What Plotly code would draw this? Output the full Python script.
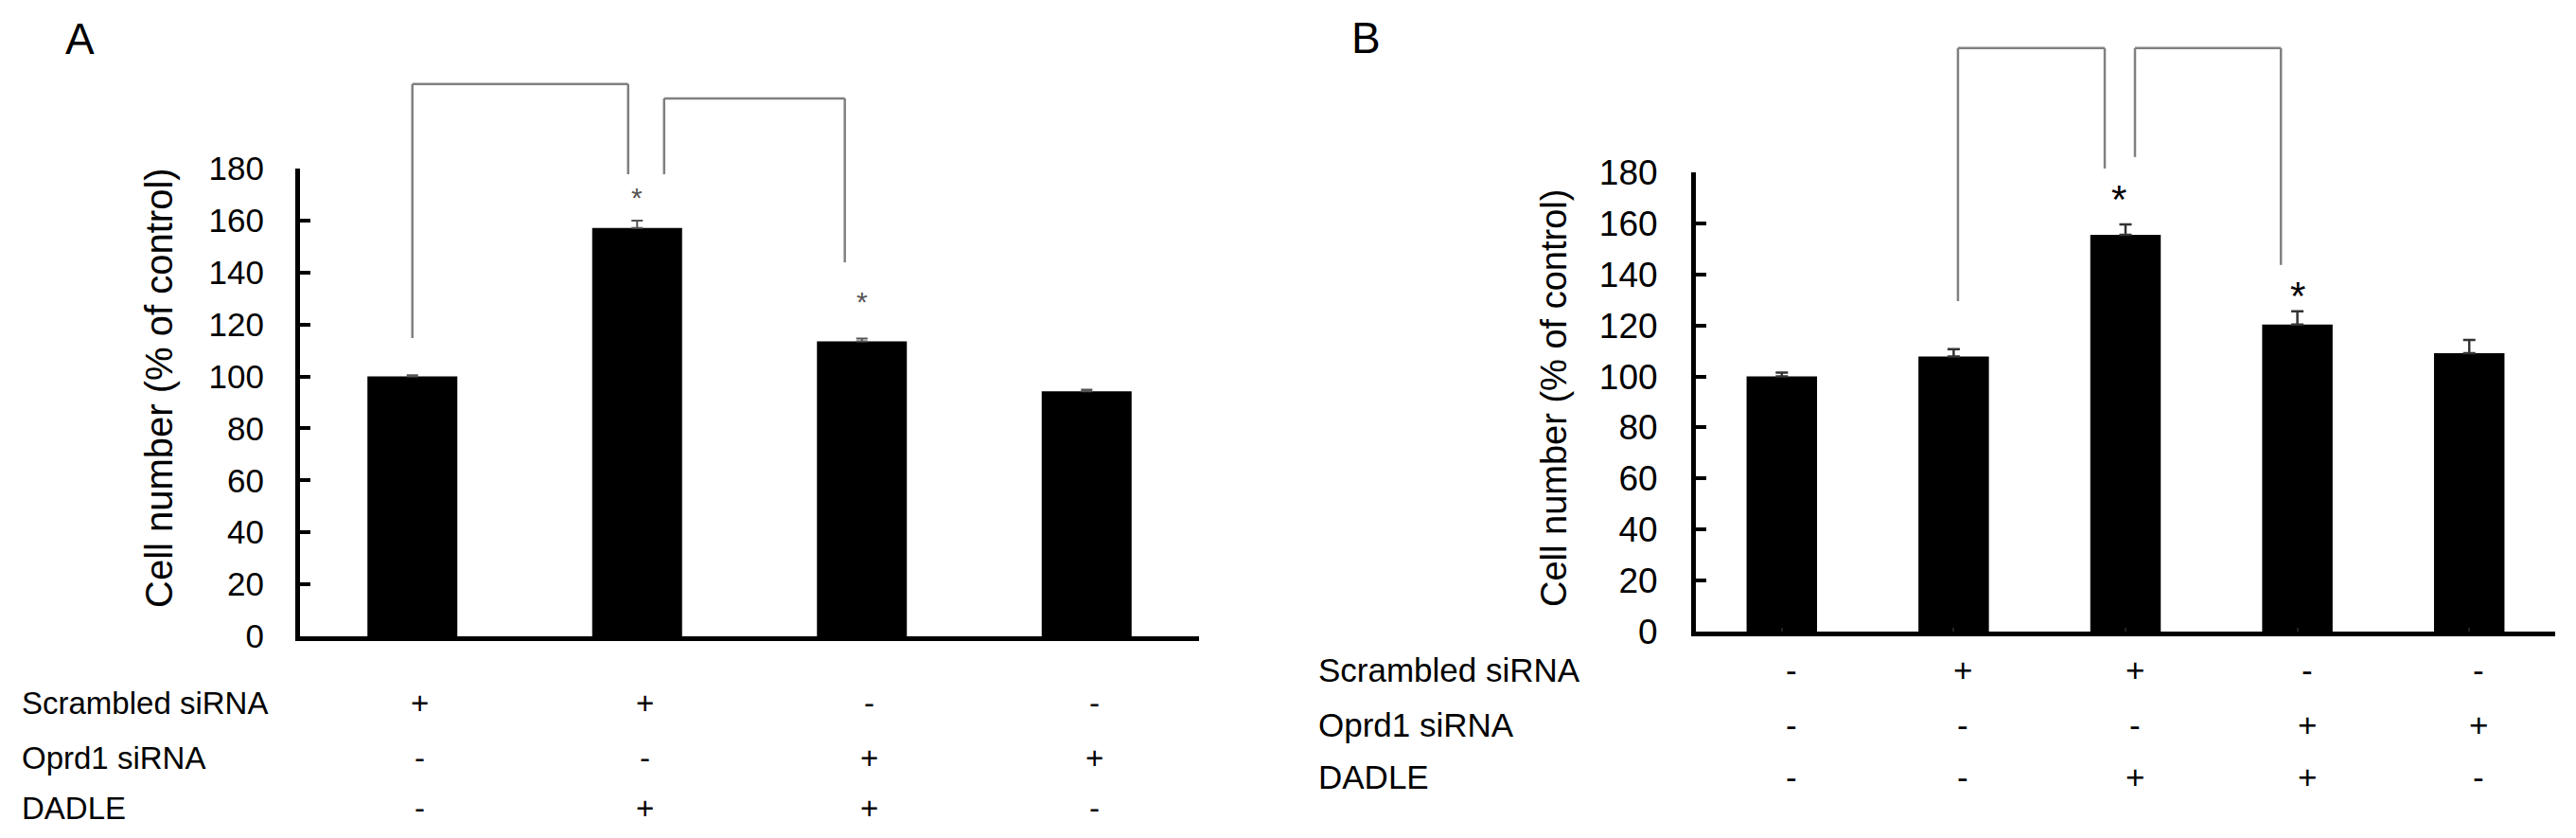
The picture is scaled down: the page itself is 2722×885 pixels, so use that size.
import plotly.graph_objects as go

# ---------------- data ----------------
A_CATS = ["A1", "A2", "A3", "A4"]
A_VALUES = [100.0, 157.1, 113.5, 94.3]
A_ERRORS = [0.5, 2.9, 1.1, 0.6]

B_CATS = ["B1", "B2", "B3", "B4", "B5"]
B_VALUES = [100.0, 107.8, 155.5, 120.3, 109.1]
B_ERRORS = [1.5, 2.9, 4.1, 5.2, 5.2]

ROW_NAMES = ["Scrambled siRNA", "Oprd1 siRNA", "DADLE"]
A_SIGNS = [["+", "+", "-", "-"],
           ["-", "-", "+", "+"],
           ["-", "+", "+", "-"]]
B_SIGNS = [["-", "+", "+", "-", "-"],
           ["-", "-", "-", "+", "+"],
           ["-", "-", "+", "+", "-"]]

Y_TICKS = [0, 20, 40, 60, 80, 100, 120, 140, 160, 180]
Y_MAX = 180
Y_TITLE = "Cell number (% of control)"

# brackets: (x_left, x_right, y_top, y_left_end, y_right_end) in data units
A_BRACKETS = [(0.0, 0.96, 212.5, 114.8, 177.8),
              (1.12, 1.924, 207.0, 177.8, 143.9)]
B_BRACKETS = [(1.025, 1.879, 228.7, 129.5, 181.5),
              (2.055, 2.904, 228.7, 186.0, 143.7)]

# asterisks: (category position, y value)
A_STARS = [(1.0, 171.6), (2.0, 131.2)]
B_STARS = [(1.96, 173.0), (3.0, 135.1)]

W, H = 2722, 885
FONT = "Liberation Sans, Arial, sans-serif"

fig = go.Figure()

fig.add_trace(go.Bar(
    x=list(range(len(A_CATS))), y=A_VALUES, width=0.40,
    marker=dict(color="black", line=dict(width=0)),
    error_y=dict(type="data", array=A_ERRORS, arrayminus=[0] * len(A_ERRORS),
                 symmetric=False, visible=True,
                 color="#555555", thickness=2, width=6),
    xaxis="x", yaxis="y", showlegend=False))

fig.add_trace(go.Bar(
    x=list(range(len(B_CATS))), y=B_VALUES, width=0.41,
    marker=dict(color="black", line=dict(width=0)),
    error_y=dict(type="data", array=B_ERRORS, arrayminus=[0] * len(B_ERRORS),
                 symmetric=False, visible=True,
                 color="#333333", thickness=2.5, width=6.5),
    xaxis="x2", yaxis="y2", showlegend=False))


def py(px):
    return (H - px) / H


def px_(p):
    return p / W


yaxis_common = dict(
    range=[0, Y_MAX], tickvals=Y_TICKS, showline=True, linewidth=5,
    linecolor="black", ticks="inside", ticklen=11, tickwidth=4,
    tickcolor="black", showgrid=False, zeroline=False, fixedrange=True,
    automargin=False,
)

fig.update_layout(
    template="none",
    width=W, height=H,
    margin=dict(l=0, r=0, t=0, b=0, pad=0),
    paper_bgcolor="white", plot_bgcolor="white",
    font=dict(family=FONT, color="black"),
    showlegend=False,
    xaxis=dict(domain=[px_(317), px_(1267)], range=[-0.5, len(A_CATS) - 0.5],
               showticklabels=False, showline=True, linewidth=5,
               linecolor="black", ticks="", showgrid=False, zeroline=False,
               anchor="y", fixedrange=True, automargin=False),
    yaxis=dict(domain=[py(672), py(178)], anchor="x",
               tickfont=dict(size=35, family=FONT, color="black"),
               ticklabelstandoff=26, **yaxis_common),
    xaxis2=dict(domain=[px_(1792), px_(2700)], range=[-0.5, len(B_CATS) - 0.5],
                showticklabels=False, showline=True, linewidth=5,
                linecolor="black", ticks="inside", tickson="boundaries",
                tickvals=list(range(len(B_CATS))),
                ticklen=4, tickwidth=2, tickcolor="#222222",
                showgrid=False, zeroline=False, anchor="y2", fixedrange=True,
                automargin=False),
    yaxis2=dict(domain=[py(667), py(182)], anchor="x2",
                tickfont=dict(size=37, family=FONT, color="black"),
                ticklabelstandoff=28, **yaxis_common),
)

shapes = []
for xr, yr, brackets in (("x", "y domain", A_BRACKETS), ("x2", "y2 domain", B_BRACKETS)):
    for (xl, xrr, yt, yl, yre) in brackets:
        line = dict(color="#808080", width=2.5)
        shapes.append(dict(type="line", xref=xr, yref=yr, x0=xl, x1=xl,
                           y0=yl / Y_MAX, y1=yt / Y_MAX, line=line))
        shapes.append(dict(type="line", xref=xr, yref=yr, x0=xl, x1=xrr,
                           y0=yt / Y_MAX, y1=yt / Y_MAX, line=line))
        shapes.append(dict(type="line", xref=xr, yref=yr, x0=xrr, x1=xrr,
                           y0=yre / Y_MAX, y1=yt / Y_MAX, line=line))
fig.update_layout(shapes=shapes)

ann = []
# panel letters
ann.append(dict(text="A", x=px_(84), y=py(41), xref="paper", yref="paper",
                showarrow=False, font=dict(size=46, family=FONT),
                xanchor="center", yanchor="middle"))
ann.append(dict(text="B", x=px_(1443), y=py(40), xref="paper", yref="paper",
                showarrow=False, font=dict(size=46, family=FONT),
                xanchor="center", yanchor="middle"))
# y titles
ann.append(dict(text=Y_TITLE, x=px_(168), y=py(410), xref="paper", yref="paper",
                textangle=-90, showarrow=False, font=dict(size=40, family=FONT),
                xanchor="center", yanchor="middle"))
ann.append(dict(text=Y_TITLE, x=px_(1642), y=py(421), xref="paper", yref="paper",
                textangle=-90, showarrow=False, font=dict(size=38, family=FONT),
                xanchor="center", yanchor="middle"))
# asterisks
for (cx, cy) in A_STARS:
    ann.append(dict(text="*", x=cx, y=cy, xref="x", yref="y", showarrow=False,
                    font=dict(size=30, family=FONT, color="#555555"),
                    xanchor="center", yanchor="middle", yshift=-7))
for (cx, cy) in B_STARS:
    ann.append(dict(text="*", x=cx, y=cy, xref="x2", yref="y2", showarrow=False,
                    font=dict(size=42, family=FONT, color="black"),
                    xanchor="center", yanchor="middle", yshift=-10))

# treatment rows
A_ROW_Y = [742, 800, 853]
B_ROW_Y = [707, 765, 820]
for i, name in enumerate(ROW_NAMES):
    ann.append(dict(text=name, x=px_(21), y=py(A_ROW_Y[i]), xref="paper", yref="paper",
                    showarrow=False, font=dict(size=33, family=FONT),
                    xanchor="left", yanchor="middle"))
    for j, s in enumerate(A_SIGNS[i]):
        ann.append(dict(text=s, x=j, y=py(A_ROW_Y[i]), xref="x", yref="paper",
                        showarrow=False, font=dict(size=33, family=FONT),
                        xanchor="center", yanchor="middle", xshift=8))
    ann.append(dict(text=name, x=px_(1391), y=py(B_ROW_Y[i]), xref="paper", yref="paper",
                    showarrow=False, font=dict(size=35, family=FONT),
                    xanchor="left", yanchor="middle"))
    for j, s in enumerate(B_SIGNS[i]):
        ann.append(dict(text=s, x=j, y=py(B_ROW_Y[i]), xref="x2", yref="paper",
                        showarrow=False, font=dict(size=35, family=FONT),
                        xanchor="center", yanchor="middle", xshift=10))

fig.update_layout(annotations=ann)

# remove the page's default body margin so the figure sits at (0, 0)
fig.write_html(
    "out.html",
    config={"displayModeBar": False, "staticPlot": True},
    post_script="document.body.style.margin='0';document.body.style.overflow='hidden';",
)
